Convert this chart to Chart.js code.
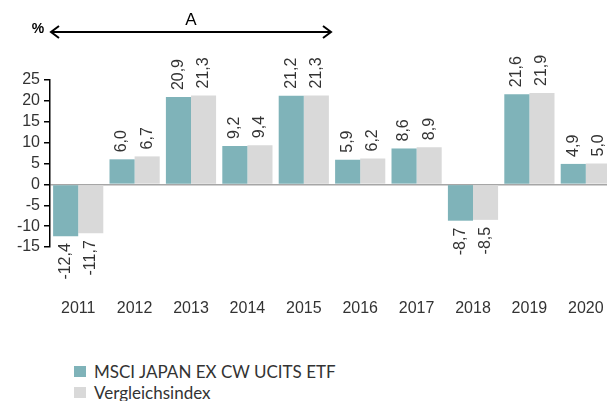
<!DOCTYPE html>
<html lang="de">
<head>
  <meta charset="UTF-8">
  <title>MSCI Japan ex CW UCITS ETF</title>
  <style>
    body {
      margin: 0;
      padding: 0;
      background: #fff;
      width: 607px;
      height: 401px;
      overflow: hidden;
      position: relative;
      font-family: 'Liberation Sans', Arial, sans-serif;
    }

    #perfChart {
      position: absolute;
      left: 0;
      top: 0;
    }

    /* Legend below the chart */
    .legend {
      position: absolute;
      left: 74px;
      top: 361px;
      font-family: 'Lato', sans-serif;
      font-size: 17px;
      color: #333;
      line-height: 21px;
    }

    .legend div {
      display: flex;
      align-items: center;
    }

    .legend span.box {
      display: inline-block;
      width: 12px;
      height: 11px;
      margin-right: 8px;
    }
  </style>
</head>
<body>
  <canvas id="perfChart" width="614" height="340"></canvas>

  <div class="legend">
    <div><span class="box" style="background:#7fb3b9"></span>MSCI JAPAN EX CW UCITS ETF</div>
    <div><span class="box" style="background:#d9d9d9"></span>Vergleichsindex</div>
  </div>

  <script src="https://cdn.jsdelivr.net/npm/chart.js"></script>
  <script>
    // Data
    const years = ['2011', '2012', '2013', '2014', '2015', '2016', '2017', '2018', '2019', '2020'];
    const fundValues = [-12.4, 6.0, 20.9, 9.2, 21.2, 5.9, 8.6, -8.7, 21.6, 4.9];
    const indexValues = [-11.7, 6.7, 21.3, 9.4, 21.3, 6.2, 8.9, -8.5, 21.9, 5.0];
    const yTicks = [-15, -10, -5, 0, 5, 10, 15, 20, 25];

    const fundColor = '#7fb3b9';
    const indexColor = '#d9d9d9';
    const fontFam = '"Liberation Sans", Arial, sans-serif';

    // rotated value labels on each bar
    const valueLabels = {
      id: 'valueLabels',
      afterDatasetsDraw(chart) {
        const ctx = chart.ctx;
        ctx.save();
        ctx.font = '16px ' + fontFam;
        ctx.fillStyle = '#333';
        ctx.textBaseline = 'middle';
        chart.data.datasets.forEach((ds, i) => {
          const meta = chart.getDatasetMeta(i);
          meta.data.forEach((bar, j) => {
            const v = ds.data[j];
            const txt = v.toFixed(1).replace('.', ',');
            ctx.save();
            ctx.translate(bar.x, bar.y);
            ctx.rotate(-Math.PI / 2);
            if (v >= 0) {
              ctx.textAlign = 'left';
              ctx.fillText(txt, 7, 0);
            } else {
              ctx.textAlign = 'right';
              ctx.fillText(txt, -7, 0);
            }
            ctx.restore();
          });
        });
        ctx.restore();
      }
    };

    // "%" unit and the period arrow "A" over 2011-2015
    const periodArrow = {
      id: 'periodArrow',
      afterDraw(chart) {
        const ctx = chart.ctx;
        const x = chart.scales.x;
        const step = x.width / years.length;
        const left = x.left;
        const right = x.getPixelForValue(4) + step / 2;
        const y = 32;
        ctx.save();
        ctx.strokeStyle = '#000';
        ctx.lineWidth = 2;
        ctx.beginPath();
        ctx.moveTo(left + 1, y);
        ctx.lineTo(right - 1, y);
        ctx.stroke();
        // heads
        ctx.beginPath();
        ctx.moveTo(left + 9, y - 6);
        ctx.lineTo(left + 1, y);
        ctx.lineTo(left + 9, y + 6);
        ctx.moveTo(right - 9, y - 6);
        ctx.lineTo(right - 1, y);
        ctx.lineTo(right - 9, y + 6);
        ctx.stroke();

        ctx.fillStyle = '#000';
        ctx.font = '17px ' + fontFam;
        ctx.textAlign = 'center';
        ctx.textBaseline = 'middle';
        ctx.fillText('A', (left + right) / 2, 20);
        ctx.font = 'bold 14px ' + fontFam;
        ctx.fillText('%', 38, 29);
        ctx.restore();
      }
    };

    const ctx = document.getElementById('perfChart').getContext('2d');
    new Chart(ctx, {
      type: 'bar',
      data: {
        labels: years,
        datasets: [
          {
            label: 'MSCI JAPAN EX CW UCITS ETF',
            data: fundValues,
            backgroundColor: fundColor,
            barPercentage: 1.0,
            categoryPercentage: 0.89
          },
          {
            label: 'Vergleichsindex',
            data: indexValues,
            backgroundColor: indexColor,
            barPercentage: 1.0,
            categoryPercentage: 0.89
          }
        ]
      },
      options: {
        responsive: false,
        animation: false,
        layout: {
          padding: { top: 80, bottom: 3, left: 0, right: 0 }
        },
        plugins: {
          legend: { display: false },
          tooltip: { enabled: false }
        },
        scales: {
          x: {
            grid: { display: false },
            border: { display: false },
            ticks: {
              color: '#333',
              padding: 44,
              maxRotation: 0,
              font: { size: 16, family: fontFam }
            },
            afterFit(scale) {
              scale.height = 90;
              scale.paddingLeft = 0;
              scale.paddingRight = 0;
            }
          },
          y: {
            min: -15,
            max: 25,
            afterBuildTicks(scale) {
              scale.ticks = yTicks.map(v => ({ value: v }));
            },
            afterFit(scale) { scale.width = 50; },
            border: { display: true, color: '#000', width: 1.5 },
            grid: {
              drawOnChartArea: true,
              color: c => (c.tick && c.tick.value === 0) ? '#a6a6a6' : 'rgba(0,0,0,0)',
              lineWidth: 1.5,
              tickColor: '#000',
              tickLength: 6
            },
            ticks: {
              color: '#333',
              padding: 4,
              autoSkip: false,
              font: { size: 16, family: fontFam }
            }
          }
        }
      },
      plugins: [valueLabels, periodArrow]
    });
  </script>
</body>
</html>
